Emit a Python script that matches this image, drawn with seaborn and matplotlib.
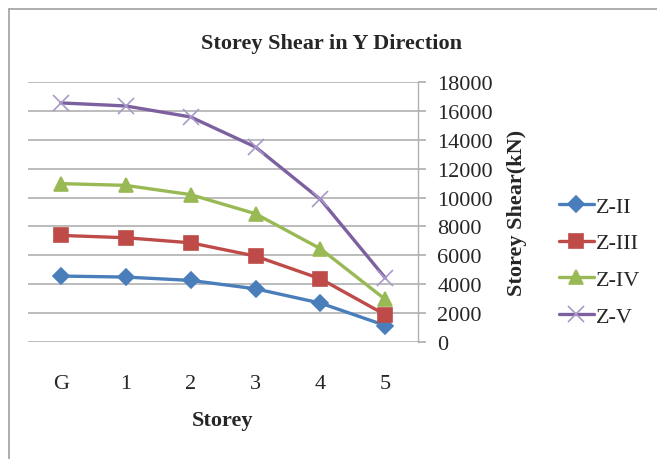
import matplotlib
matplotlib.use("Agg")
import matplotlib.pyplot as plt
import seaborn as sns
import pandas as pd
from matplotlib.lines import Line2D

storeys = ["G", "1", "2", "3", "4", "5"]
z_ii = [4570, 4500, 4270, 3690, 2700, 1150]
z_iii = [7380, 7220, 6870, 5950, 4380, 1890]
z_iv = [10960, 10840, 10200, 8880, 6460, 2950]
z_v = [16540, 16330, 15570, 13490, 9870, 4430]

series = {"Z-II": z_ii, "Z-III": z_iii, "Z-IV": z_iv, "Z-V": z_v}
colors = {"Z-II": "#4a7ebb", "Z-III": "#be4b48", "Z-IV": "#98b954", "Z-V": "#7d60a0"}
markers = {"Z-II": "D", "Z-III": "s", "Z-IV": "^", "Z-V": "x"}
msizes = {"Z-II": 8, "Z-III": 10, "Z-IV": 10, "Z-V": 11}

sns.set_theme(style="white")
plt.rcParams["font.family"] = ["Liberation Serif", "DejaVu Serif"]

fig = plt.figure(figsize=(6.57, 4.60), dpi=100)
ax = fig.add_axes([0.043, 0.254, 0.593, 0.566])

for name, vals in series.items():
    df = pd.DataFrame({"Storey": storeys, "Shear": vals})
    mec = "#a999c9" if name == "Z-V" else colors[name]
    sns.lineplot(data=df, x="Storey", y="Shear", ax=ax, color=colors[name],
                 marker=markers[name], markersize=msizes[name], linewidth=2.4,
                 markeredgecolor=mec, markerfacecolor=colors[name],
                 markeredgewidth=1.2, label=name, sort=False)

ax.set_xlim(-0.5, 5.5)
ax.set_ylim(0, 18000)
ax.set_yticks(range(0, 18001, 2000))
ax.yaxis.tick_right()
ax.yaxis.set_label_position("right")
ax.grid(axis="y", color="#b0b0b0", linewidth=1.2)
ax.grid(axis="x", visible=False)
for s in ["top", "left", "bottom"]:
    ax.spines[s].set_visible(False)
ax.spines["right"].set_color("#b0b0b0")
ax.spines["right"].set_linewidth(1.0)
ax.tick_params(axis="y", right=True, length=6, color="#b0b0b0", labelsize=16, pad=8)
ax.tick_params(axis="x", bottom=False, labelsize=16, pad=17)
ax.set_xlabel("Storey", fontsize=16, fontweight="bold", labelpad=12)
ax.set_ylabel("Storey Shear(kN)", fontsize=16, fontweight="bold", labelpad=10)

fig.text(0.505, 0.905, "Storey Shear in Y Direction", ha="center", va="center",
         fontsize=16, fontweight="bold")

leg = ax.legend(loc="center left", bbox_to_anchor=(1.31, 0.31), frameon=False,
                fontsize=16, handlelength=1.6, handletextpad=0.1, labelspacing=0.72)

# chart border (top and left edges visible in the crop)
fig.add_artist(Line2D([0.0137, 0.0137], [0.0, 0.978], color="#a0a0a0", lw=1.2))
fig.add_artist(Line2D([0.0137, 1.0], [0.978, 0.978], color="#a0a0a0", lw=1.2))

fig.savefig("out.png", dpi=100)
